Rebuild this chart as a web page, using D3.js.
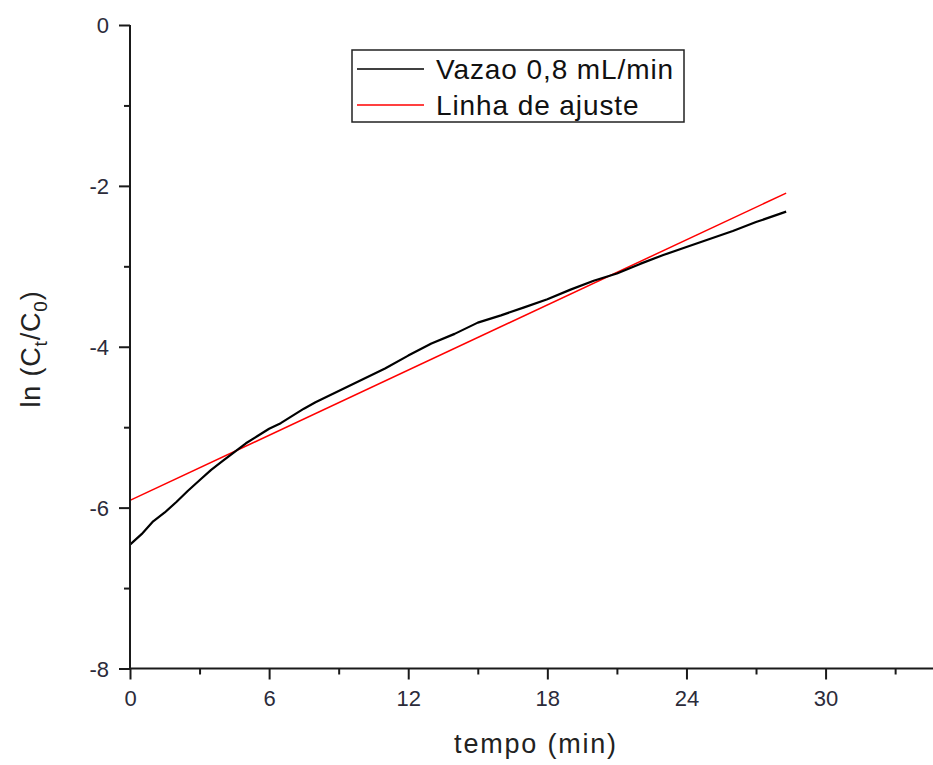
<!DOCTYPE html>
<html>
<head>
<meta charset="utf-8">
<script src="https://cdn.jsdelivr.net/npm/d3@7"></script>
<style>
  html, body { margin: 0; padding: 0; background: #fff; }
  svg { display: block; font-family: "Liberation Sans", Arial, sans-serif; }
</style>
</head>
<body>
<svg id="chart" width="933" height="765"></svg>
<script>
// ---- data ----
const tempo = [0, 0.5, 1, 1.5, 2, 2.5, 3, 3.5, 4, 4.5, 5, 5.5, 6, 6.5, 7, 7.5, 8, 9, 10, 11, 12, 13, 14, 15, 16, 17, 18, 19, 20, 21, 22, 23, 24, 25, 26, 27, 28.3];
const lnVazao = [-6.46, -6.33, -6.17, -6.06, -5.93, -5.79, -5.66, -5.53, -5.42, -5.31, -5.20, -5.11, -5.02, -4.95, -4.86, -4.77, -4.69, -4.55, -4.41, -4.27, -4.11, -3.96, -3.84, -3.70, -3.61, -3.51, -3.41, -3.29, -3.18, -3.09, -2.97, -2.86, -2.76, -2.66, -2.56, -2.45, -2.32];
const tempoAjuste = [0, 28.3];
const lnAjuste = [-5.91, -2.09];
const xMajorTicks = [0, 6, 12, 18, 24, 30];
const xMinorTicks = [3, 9, 15, 21, 27, 33];
const yMajorTicks = [0, -2, -4, -6, -8];
const yMinorTicks = [-1, -3, -5, -7];
const seriesNames = ["Vazao 0,8 mL/min", "Linha de ajuste"];
const seriesColors = ["#000000", "#ff0000"];

// ---- layout ----
const svg = d3.select("#chart");
const x = d3.scaleLinear().domain([0, 35]).range([130, 941.5]);
const y = d3.scaleLinear().domain([-8, 0]).range([668.5, 25]);
const axisColor = "#1a1a1a";
const textColor = "#2b2b3a";
const fmt = d => String(d);

// data lines
const line = d3.line().x(d => x(d[0])).y(d => y(d[1]));
svg.append("path")
  .datum(tempoAjuste.map((t, i) => [t, lnAjuste[i]]))
  .attr("d", line).attr("fill", "none")
  .attr("stroke", seriesColors[1]).attr("stroke-width", 1.5);
svg.append("path")
  .datum(tempo.map((t, i) => [t, lnVazao[i]]))
  .attr("d", line).attr("fill", "none")
  .attr("stroke", seriesColors[0]).attr("stroke-width", 2.2).attr("stroke-linejoin", "round");

// x axis
const xAxis = svg.append("g").attr("transform", `translate(0,${y(-8)})`)
  .call(d3.axisBottom(x).tickValues(xMajorTicks).tickSize(11).tickSizeOuter(0).tickFormat(fmt));
const xMinor = svg.append("g").attr("transform", `translate(0,${y(-8)})`)
  .call(d3.axisBottom(x).tickValues(xMinorTicks).tickSize(6).tickSizeOuter(0).tickFormat(""));
xMinor.select(".domain").remove();

// y axis
const yAxis = svg.append("g").attr("transform", `translate(${x(0)},0)`)
  .call(d3.axisLeft(y).tickValues(yMajorTicks).tickSize(11).tickSizeOuter(0).tickFormat(fmt));
const yMinor = svg.append("g").attr("transform", `translate(${x(0)},0)`)
  .call(d3.axisLeft(y).tickValues(yMinorTicks).tickSize(6).tickSizeOuter(0).tickFormat(""));
yMinor.select(".domain").remove();

[xAxis, xMinor, yAxis, yMinor].forEach(g => {
  g.attr("font-family", null).attr("font-size", 22);
  g.selectAll(".domain").attr("stroke", axisColor).attr("stroke-width", 2);
  g.selectAll(".tick line").attr("stroke", axisColor).attr("stroke-width", 2);
});
xAxis.selectAll(".tick text").attr("font-size", 22).attr("fill", textColor).attr("y", 22);
yAxis.selectAll(".tick text").attr("font-size", 22).attr("fill", textColor).attr("x", -21).attr("dy", "0.35em");
yAxis.select(".domain").attr("d", `M0,${y(0)}V${y(-8) + 1}`);
xAxis.select(".domain").attr("d", `M${x(0) - 1},0H933`);

// axis titles
svg.append("text").attr("x", 536).attr("y", 753).attr("text-anchor", "middle")
  .attr("font-size", 27).attr("fill", "#222").attr("letter-spacing", 1.8).text("tempo (min)");

const yt = svg.append("text").attr("transform", "translate(40,349) rotate(-90)")
  .attr("text-anchor", "middle").attr("font-size", 27).attr("fill", "#222").attr("letter-spacing", 0.8);
yt.append("tspan").text("ln (C");
yt.append("tspan").attr("font-size", 19).attr("dy", 7).text("t");
yt.append("tspan").attr("dy", -7).text("/C");
yt.append("tspan").attr("font-size", 19).attr("dy", 7).text("0");
yt.append("tspan").attr("dy", -7).text(")");

// legend
const lg = svg.append("g");
lg.append("rect").attr("x", 352).attr("y", 50).attr("width", 332).attr("height", 72)
  .attr("fill", "#fff").attr("stroke", "#222").attr("stroke-width", 1.5);
const rowsY = [69, 105];
seriesNames.forEach((name, i) => {
  lg.append("line").attr("x1", 357).attr("x2", 424).attr("y1", rowsY[i]).attr("y2", rowsY[i])
    .attr("stroke", seriesColors[i]).attr("stroke-width", 1.5);
  lg.append("text").attr("x", 436).attr("y", rowsY[i] + 10).attr("font-size", 28)
    .attr("letter-spacing", 0.9).attr("fill", "#111").text(name);
});
</script>
</body>
</html>
